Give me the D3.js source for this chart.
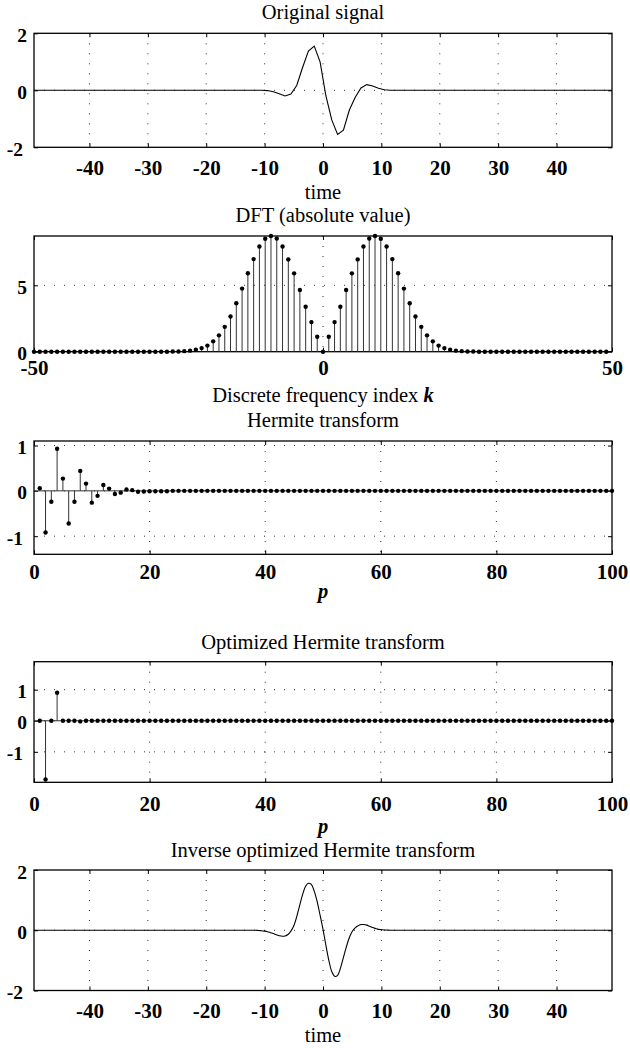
<html>
<head>
<meta charset="utf-8">
<script src="https://cdn.jsdelivr.net/npm/d3@7"></script>
<style>
body { margin: 0; background: #fff; }
svg text { font-family: "Liberation Serif", "Times New Roman", serif; fill: #000; }
.title { font-size: 20.5px; }
.xlbl { font-size: 21px; font-weight: bold; }
.ylbl { font-size: 19.5px; font-weight: bold; }
.grid { stroke: #333; stroke-width: 1; stroke-dasharray: 1 9; }
.stem { stroke: #333; stroke-width: 1; }
</style>
</head>
<body>
<svg width="630" height="1048"></svg>
<script>
// original signal, samples (time, value); flat zero outside +-11.5
const sigTime = [-49.5, -11.5, -10.5, -9.5, -8.5, -7.5, -6.5, -5.5, -4.5, -3.5, -2.5, -1.5, -0.5,
                 0.5, 1.5, 2.5, 3.5, 4.5, 5.5, 6.5, 7.5, 8.5, 9.5, 10.5, 11.5, 49.5];
const sigValue = [0, 0, 0, -0.01, -0.05, -0.12, -0.2, -0.13, 0.17, 0.8, 1.38, 1.55, 1.0,
                  -0.2, -1.04, -1.55, -1.4, -0.7, -0.25, 0.08, 0.2, 0.15, 0.07, 0.02, 0, 0];

// |DFT|, k = -50 .. 49
const dftK = d3.range(-50, 50);
const dftAbs = [
  0, 0, 0, 0, 0, 0, 0, 0, 0, 0, 0, 0, 0, 0, 0, 0, 0, 0, 0, 0, 0, 0, 0, 0,
  0.01, 0.02, 0.04, 0.08, 0.15, 0.27, 0.46, 0.78, 1.23, 1.87, 2.65, 3.65, 4.75,
  5.91, 6.97, 7.92, 8.5, 8.71, 8.52, 7.92, 6.95, 5.9, 4.65, 3.38, 2.23, 1.12,
  0,
  1.12, 2.23, 3.38, 4.65, 5.9, 6.95, 7.92, 8.52, 8.71, 8.5, 7.92, 6.97, 5.91,
  4.75, 3.65, 2.65, 1.87, 1.23, 0.78, 0.46, 0.27, 0.15, 0.08, 0.04, 0.02, 0.01,
  0, 0, 0, 0, 0, 0, 0, 0, 0, 0, 0, 0, 0, 0, 0, 0, 0, 0, 0, 0, 0, 0, 0
];

// Hermite coefficients, p = 1 .. 100
const hermP = d3.range(1, 101);
const hermCoef = [
  0.06, -0.92, -0.24, 0.93, 0.27, -0.72, -0.24, 0.44, 0.16, -0.26,
  -0.11, 0.13, 0.05, -0.07, -0.04, 0.03, 0.015, -0.02, -0.015, -0.01,
  -0.01, -0.01, -0.01, 0, 0, 0, 0, 0, 0, 0,
  0, 0, 0, 0, 0, 0, 0, 0, 0, 0,  0, 0, 0, 0, 0, 0, 0, 0, 0, 0,
  0, 0, 0, 0, 0, 0, 0, 0, 0, 0,  0, 0, 0, 0, 0, 0, 0, 0, 0, 0,
  0, 0, 0, 0, 0, 0, 0, 0, 0, 0,  0, 0, 0, 0, 0, 0, 0, 0, 0, 0,
  0, 0, 0, 0, 0, 0, 0, 0, 0, 0
];
const optCoef = [
  0, -1.89, 0, 0.9, 0, 0, 0, -0.02, 0, 0,
  0, 0, 0, 0, 0, 0, 0, 0, 0, 0,  0, 0, 0, 0, 0, 0, 0, 0, 0, 0,
  0, 0, 0, 0, 0, 0, 0, 0, 0, 0,  0, 0, 0, 0, 0, 0, 0, 0, 0, 0,
  0, 0, 0, 0, 0, 0, 0, 0, 0, 0,  0, 0, 0, 0, 0, 0, 0, 0, 0, 0,
  0, 0, 0, 0, 0, 0, 0, 0, 0, 0,  0, 0, 0, 0, 0, 0, 0, 0, 0, 0,
  0, 0, 0, 0, 0, 0, 0, 0, 0, 0
];

// inverse optimized transform, finer samples; flat zero outside +-12
const invTime = [-49.5].concat(d3.range(-12, 12.5, 0.5), [49.5]);
const invValue = [0,
  0, 0, -0.01, -0.015, -0.03, -0.05, -0.08, -0.11, -0.15, -0.18, -0.2, -0.19, -0.14,
  -0.03, 0.15, 0.45, 0.82, 1.18, 1.45, 1.56, 1.52, 1.3, 0.95, 0.5,
  0.03,
  -0.5, -1.0, -1.37, -1.53, -1.5, -1.25, -0.9, -0.55, -0.25, -0.04, 0.08, 0.15, 0.19,
  0.19, 0.17, 0.13, 0.09, 0.06, 0.03, 0.02, 0.01, 0.005, 0, 0,
  0];

const timeTicks = [-40, -30, -20, -10, 0, 10, 20, 30, 40];
const pTicks = [0, 20, 40, 60, 80, 100];

const LEFT = 34, RIGHT = 612, MID = (LEFT + RIGHT) / 2;
const svg = d3.select("svg");

function drawPanel(p) {
  const x = d3.scaleLinear().domain(p.xDomain).range([LEFT, RIGHT]);
  const y = d3.scaleLinear().domain(p.yDomain).range([p.bottom, p.top]);
  const g = svg.append("g");

  g.append("g").selectAll("line").data(p.xGrid).join("line")
    .attr("class", "grid")
    .attr("x1", d => x(d)).attr("x2", d => x(d))
    .attr("y1", p.top).attr("y2", p.bottom);
  g.append("g").selectAll("line").data(p.yGrid).join("line")
    .attr("class", "grid")
    .attr("y1", d => y(d)).attr("y2", d => y(d))
    .attr("x1", LEFT).attr("x2", RIGHT);

  const fmt = d => String(d);
  const xb = g.append("g").attr("transform", "translate(0," + p.bottom + ")")
    .call(d3.axisBottom(x).tickValues(p.xTicks).tickSizeInner(-4).tickSizeOuter(0).tickFormat(fmt));
  xb.select(".domain").remove();
  xb.selectAll("text").attr("class", "xlbl").attr("dy", null)
    .attr("y", p.xLabelY - p.bottom).attr("dominant-baseline", "central");

  const xt = g.append("g").attr("transform", "translate(0," + p.top + ")")
    .call(d3.axisTop(x).tickValues(p.xTicks).tickSizeInner(-4).tickSizeOuter(0).tickFormat(""));
  xt.select(".domain").remove();

  const yl = g.append("g").attr("transform", "translate(" + LEFT + ",0)")
    .call(d3.axisLeft(y).tickValues(p.yTicks).tickSizeInner(-4).tickSizeOuter(0).tickFormat(fmt));
  yl.select(".domain").remove();
  yl.selectAll("text").attr("class", "ylbl").attr("dy", null)
    .attr("x", d => d < 0 ? -11 : -7).attr("y", 1.5).attr("dominant-baseline", "central");

  const yr = g.append("g").attr("transform", "translate(" + RIGHT + ",0)")
    .call(d3.axisRight(y).tickValues(p.yTicks).tickSizeInner(-4).tickSizeOuter(0).tickFormat(""));
  yr.select(".domain").remove();

  g.append("rect")
    .attr("x", LEFT).attr("y", p.top)
    .attr("width", RIGHT - LEFT).attr("height", p.bottom - p.top)
    .attr("fill", "none").attr("stroke", "#000").attr("stroke-width", 1.3);

  p.plot(g, x, y);
}

function linePlot(xs, ys, curve) {
  return (g, x, y) => {
    g.append("path")
      .datum(d3.zip(xs, ys))
      .attr("fill", "none").attr("stroke", "#000").attr("stroke-width", 1.1)
      .attr("d", d3.line().x(d => x(d[0])).y(d => y(d[1])).curve(curve));
  };
}

function stemPlot(xs, ys, baseline) {
  return (g, x, y) => {
    const pts = d3.zip(xs, ys);
    if (baseline) {
      g.append("line").attr("class", "stem")
        .attr("x1", LEFT).attr("x2", RIGHT).attr("y1", y(0)).attr("y2", y(0));
    }
    g.append("g").selectAll("line").data(pts).join("line")
      .attr("class", "stem")
      .attr("x1", d => x(d[0])).attr("x2", d => x(d[0]))
      .attr("y1", y(0)).attr("y2", d => y(d[1]));
    g.append("g").selectAll("circle").data(pts).join("circle")
      .attr("cx", d => x(d[0])).attr("cy", d => y(d[1]))
      .attr("r", 2.2).attr("fill", "#000");
  };
}

function label(txt, yc, cls) {
  return svg.append("text").attr("class", cls || "title")
    .attr("x", MID).attr("y", yc)
    .attr("text-anchor", "middle").attr("dominant-baseline", "central")
    .text(txt);
}

// 1. original signal
label("Original signal", 11.7);
drawPanel({
  top: 33.3, bottom: 147.3, xDomain: [-49.5, 49.5], yDomain: [-2, 2],
  xTicks: timeTicks, yTicks: [-2, 0, 2], xGrid: timeTicks, yGrid: [0],
  xLabelY: 168, plot: linePlot(sigTime, sigValue, d3.curveLinear)
});
label("time", 191.5);

// 2. DFT
label("DFT (absolute value)", 215);
drawPanel({
  top: 236, bottom: 351.7, xDomain: [-50, 50], yDomain: [0, d3.max(dftAbs)],
  xTicks: [-50, 0, 50], yTicks: [0, 5], xGrid: [0], yGrid: [5],
  xLabelY: 368, plot: stemPlot(dftK, dftAbs, false)
});
const kLab = label("Discrete frequency index ", 395);
kLab.append("tspan").style("font-style", "italic").style("font-weight", "bold").text("k");

// 3. Hermite transform
label("Hermite transform", 420);
drawPanel({
  top: 441, bottom: 554.3, xDomain: [0, 100], yDomain: [-1.4, 1.1],
  xTicks: pTicks, yTicks: [-1, 0, 1], xGrid: [20, 40, 60, 80], yGrid: [-1, 0, 1],
  xLabelY: 572.5, plot: stemPlot(hermP, hermCoef, true)
});
label("p", 590.5).style("font-style", "italic").style("font-weight", "bold");

// 4. optimized Hermite transform
label("Optimized Hermite transform", 641.7);
drawPanel({
  top: 661.7, bottom: 782.3, xDomain: [0, 100], yDomain: [-1.98, 1.9],
  xTicks: pTicks, yTicks: [-1, 0, 1], xGrid: [20, 40, 60, 80], yGrid: [-1, 0, 1],
  xLabelY: 804, plot: stemPlot(hermP, optCoef, true)
});
label("p", 825.5).style("font-style", "italic").style("font-weight", "bold");

// 5. inverse
label("Inverse optimized Hermite transform", 849.7);
drawPanel({
  top: 870, bottom: 990.5, xDomain: [-49.5, 49.5], yDomain: [-2, 2],
  xTicks: timeTicks, yTicks: [-2, 0, 2], xGrid: timeTicks, yGrid: [0],
  xLabelY: 1010.5, plot: linePlot(invTime, invValue, d3.curveCatmullRom)
});
label("time", 1035);
</script>
</body>
</html>
